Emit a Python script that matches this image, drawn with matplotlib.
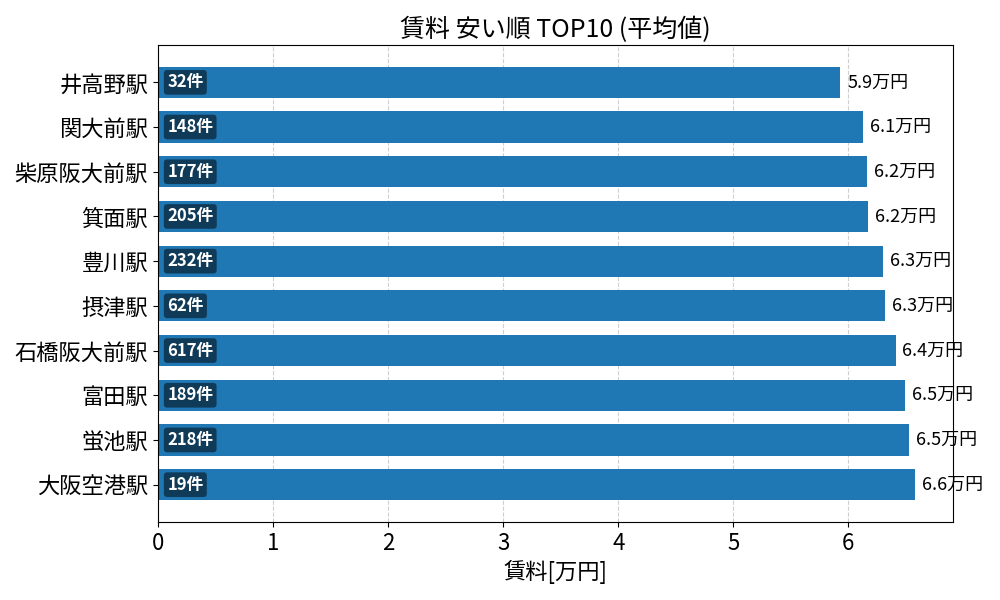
import matplotlib
matplotlib.use("Agg")
import matplotlib.pyplot as plt

plt.rcParams['font.family'] = ['Noto Sans CJK JP', 'DejaVu Sans']

# 平均賃料の安い順 (上から)
stations = ["井高野駅", "関大前駅", "柴原阪大前駅", "箕面駅", "豊川駅",
            "摂津駅", "石橋阪大前駅", "富田駅", "蛍池駅", "大阪空港駅"]
rent = [5.93, 6.13, 6.16, 6.17, 6.30, 6.32, 6.41, 6.49, 6.53, 6.58]
counts = [32, 148, 177, 205, 232, 62, 617, 189, 218, 19]

fig, ax = plt.subplots(figsize=(10, 6), dpi=100)
ypos = list(range(len(stations)))[::-1]
ax.barh(ypos, rent, height=0.7, color="#1f77b4", zorder=2)

for y, v, n in zip(ypos, rent, counts):
    ax.text(v + 0.06, y, f"{v:.1f}万円", va="center", ha="left", fontsize=13)
    ax.text(0.08, y, f"{n}件", va="center", ha="left", fontsize=12,
            color="white", fontweight="bold",
            bbox=dict(boxstyle="round,pad=0.2", facecolor="black",
                      alpha=0.5, edgecolor="none"))

ax.set_yticks(ypos)
ax.set_yticklabels(stations, fontsize=16)
ax.tick_params(axis="x", labelsize=16)
ax.set_xlabel("賃料[万円]", fontsize=16)
ax.set_title("賃料 安い順 TOP10 (平均値)", fontsize=18)
ax.grid(axis="x", linestyle="--", alpha=0.6, zorder=0)
ax.set_axisbelow(True)

plt.subplots_adjust(left=0.158, right=0.953, top=0.925, bottom=0.13)
plt.savefig("out.png")
